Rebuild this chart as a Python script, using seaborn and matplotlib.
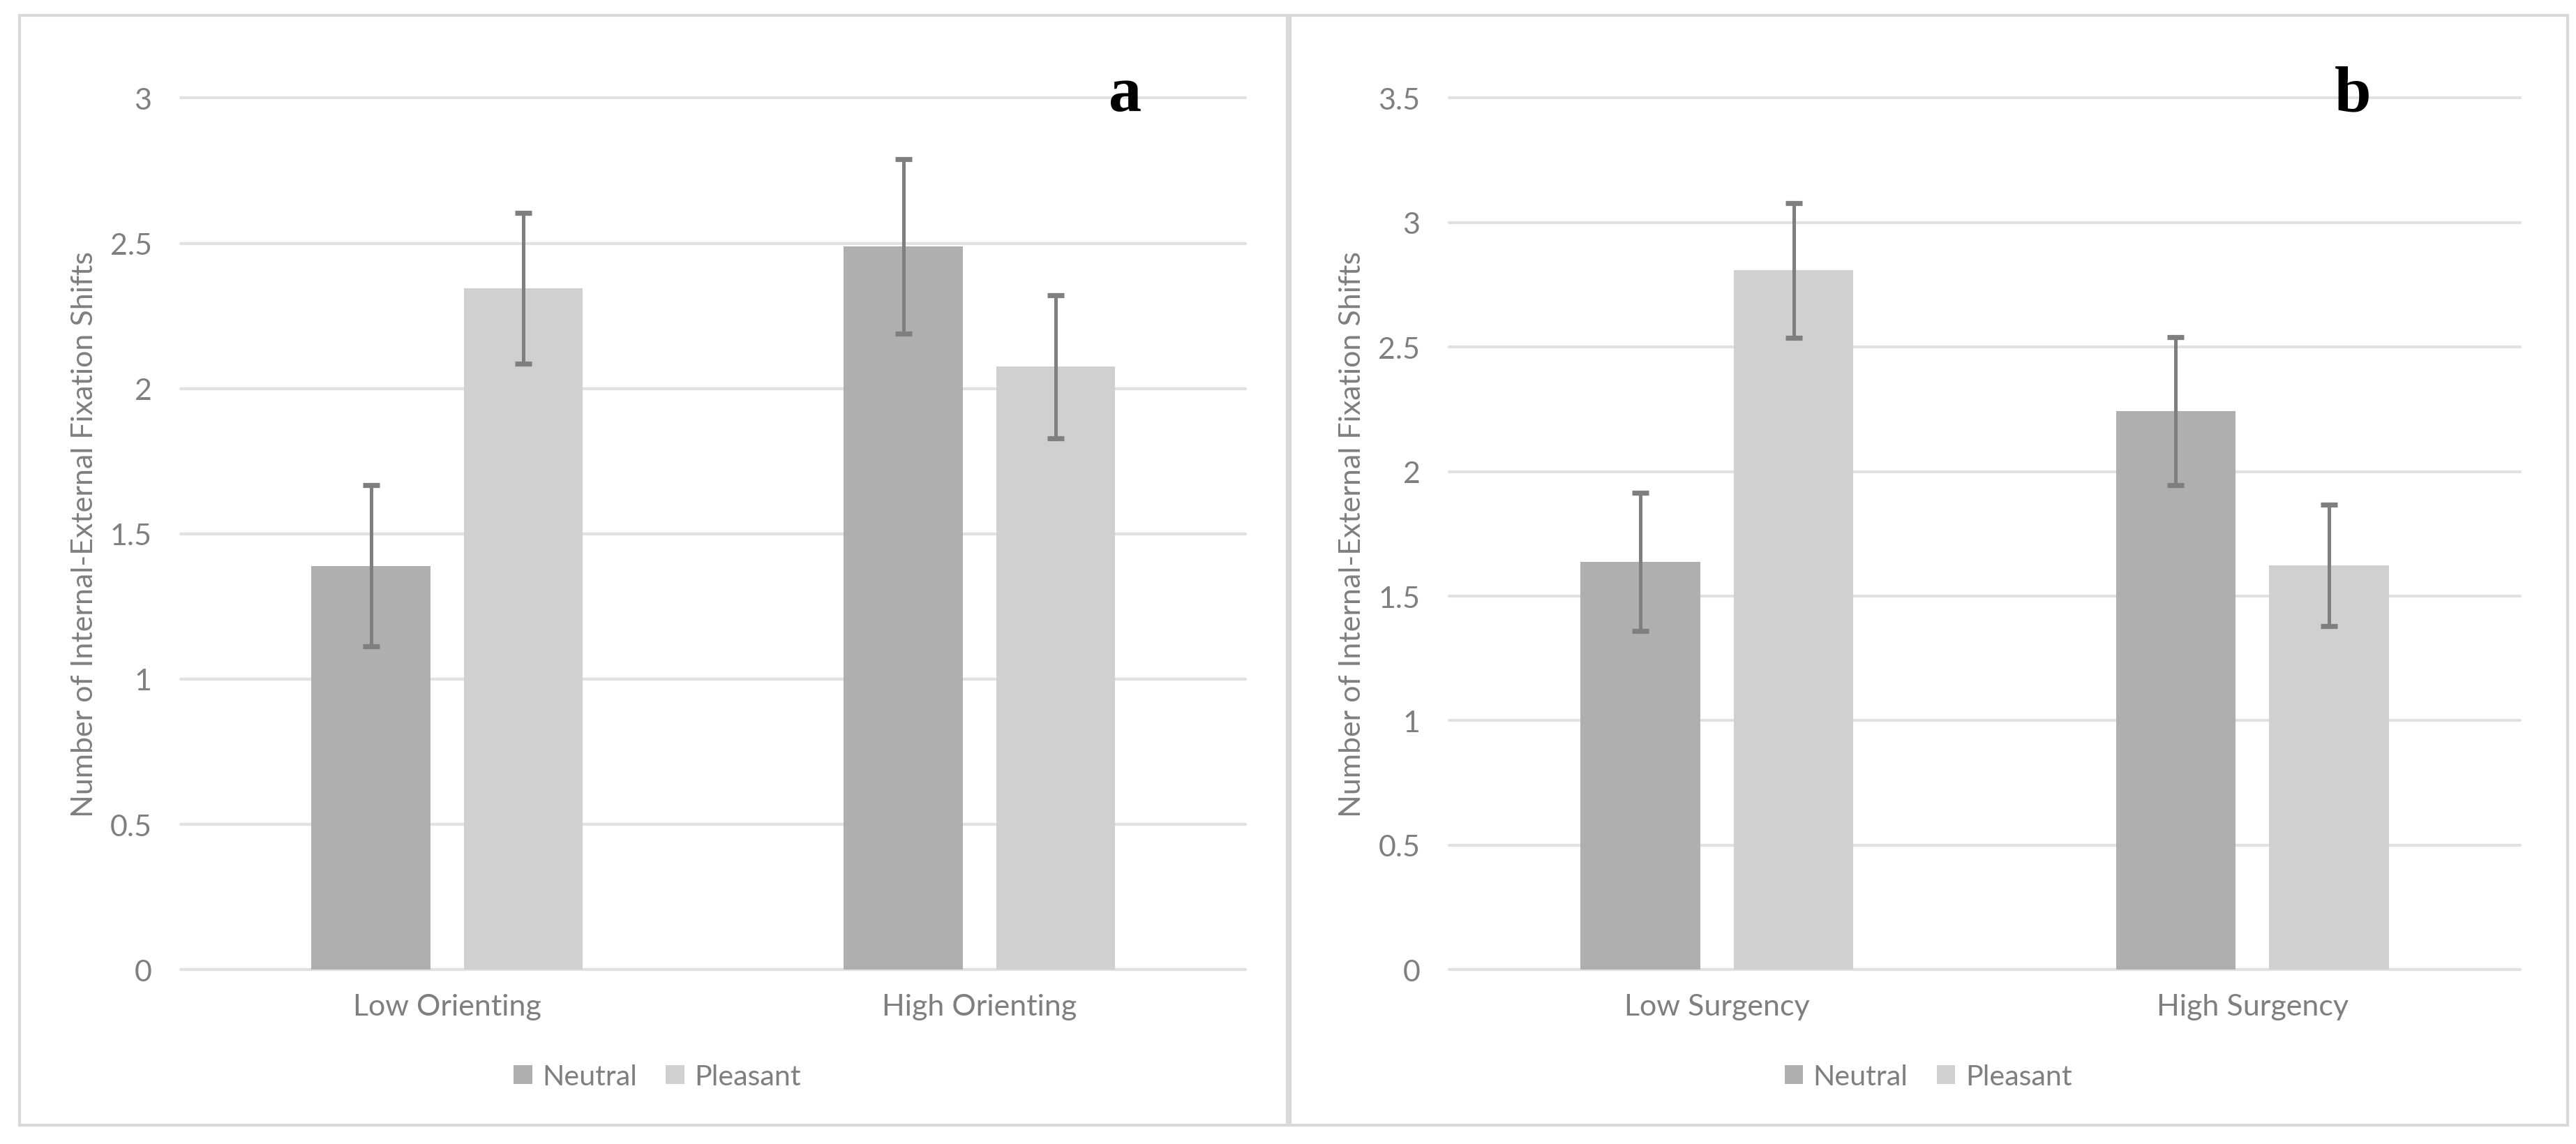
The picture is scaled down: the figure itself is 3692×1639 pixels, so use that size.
import pandas as pd
import matplotlib.pyplot as plt
import seaborn as sns
from matplotlib.patches import Rectangle

sns.set_theme(style="white")
plt.rcParams['font.family'] = ['Lato', 'DejaVu Sans']

TEXT = '#7F7F7F'
GRID = '#E1E1E1'
ERR = '#7F7F7F'
PALETTE = {'Neutral': '#AFAFAF', 'Pleasant': '#D0D0D0'}
FS = 15.5

# data
conditions = ['Neutral', 'Pleasant']

orienting_groups = ['Low Orienting', 'High Orienting']
orienting_neutral = [1.39, 2.49]
orienting_pleasant = [2.345, 2.075]
orienting_neutral_err = [0.277, 0.30]
orienting_pleasant_err = [0.26, 0.247]

surgency_groups = ['Low Surgency', 'High Surgency']
surgency_neutral = [1.637, 2.242]
surgency_pleasant = [2.808, 1.623]
surgency_neutral_err = [0.278, 0.297]
surgency_pleasant_err = [0.27, 0.243]

y_label = 'Number of Internal-External Fixation Shifts'


def make_df(groups, neutral, pleasant):
    return pd.DataFrame({
        'group': groups * 2,
        'condition': ['Neutral'] * len(groups) + ['Pleasant'] * len(groups),
        'value': neutral + pleasant,
    })


def draw_panel(ax, groups, neutral, pleasant, n_err, p_err, ymax, letter, letter_x, legend_x):
    df = make_df(groups, neutral, pleasant)
    sns.barplot(data=df, x='group', y='value', hue='condition', order=groups,
                hue_order=conditions, palette=PALETTE, errorbar=None,
                width=0.572, gap=0.22, saturation=1, linewidth=0, ax=ax)

    # error bars placed on the bars seaborn drew
    for container, errs in zip(ax.containers, [n_err, p_err]):
        for bar, e in zip(container, errs):
            ax.errorbar(bar.get_x() + bar.get_width() / 2, bar.get_height(), yerr=e,
                        fmt='none', ecolor=ERR, elinewidth=1.8, capsize=4.3,
                        capthick=2.6, zorder=4)

    ax.set_xlim(-0.5, 1.5)
    ax.set_ylim(0, ymax)
    ticks = [i * 0.5 for i in range(int(ymax / 0.5) + 1)]
    ax.set_yticks(ticks)
    ax.set_yticklabels([f'{t:g}' for t in ticks])
    ax.yaxis.grid(True, color=GRID, linewidth=1.5, clip_on=False)
    ax.xaxis.grid(False)
    ax.set_axisbelow(True)
    sns.despine(ax=ax, left=True, bottom=True)
    ax.tick_params(axis='y', length=0, pad=15, labelsize=FS, labelcolor=TEXT)
    ax.tick_params(axis='x', length=0, pad=12, labelsize=FS, labelcolor=TEXT)
    ax.set_xlabel('')
    ax.set_ylabel(y_label, fontsize=FS, color=TEXT)
    ax.yaxis.set_label_coords(-0.078, 0.5)

    ax.legend(handles=ax.containers, labels=conditions, loc='center',
              bbox_to_anchor=(legend_x, 0.059), bbox_transform=ax.figure.transFigure,
              ncol=2, frameon=False, fontsize=14.8, labelcolor=TEXT,
              handlelength=0.65, handleheight=0.65, handletextpad=0.35,
              columnspacing=1.0)

    ax.figure.text(letter_x, 0.9167, letter, ha='center', va='center',
                   fontsize=34, fontweight='bold', family='Liberation Serif', color='black')


fig = plt.figure(figsize=(18.46, 8.2), dpi=200)
fig.patch.set_facecolor('white')

ax_a = fig.add_axes([0.0702, 0.1523, 0.4133, 0.7615])
ax_b = fig.add_axes([0.5626, 0.1523, 0.4157, 0.7615])

draw_panel(ax_a, orienting_groups, orienting_neutral, orienting_pleasant,
           orienting_neutral_err, orienting_pleasant_err, 3.0, 'a', 0.4369, 0.2551)
draw_panel(ax_b, surgency_groups, surgency_neutral, surgency_pleasant,
           surgency_neutral_err, surgency_pleasant_err, 3.5, 'b', 0.9133, 0.7485)

# panel frames
for x0, w in [(0.0076, 0.4921), (0.5008, 0.4959)]:
    fig.patches.append(Rectangle((x0, 0.0165), w, 0.9695, transform=fig.transFigure,
                                 fill=False, edgecolor='#D9D9D9', linewidth=1.5))

fig.savefig('out.png', dpi=200, facecolor='white')
